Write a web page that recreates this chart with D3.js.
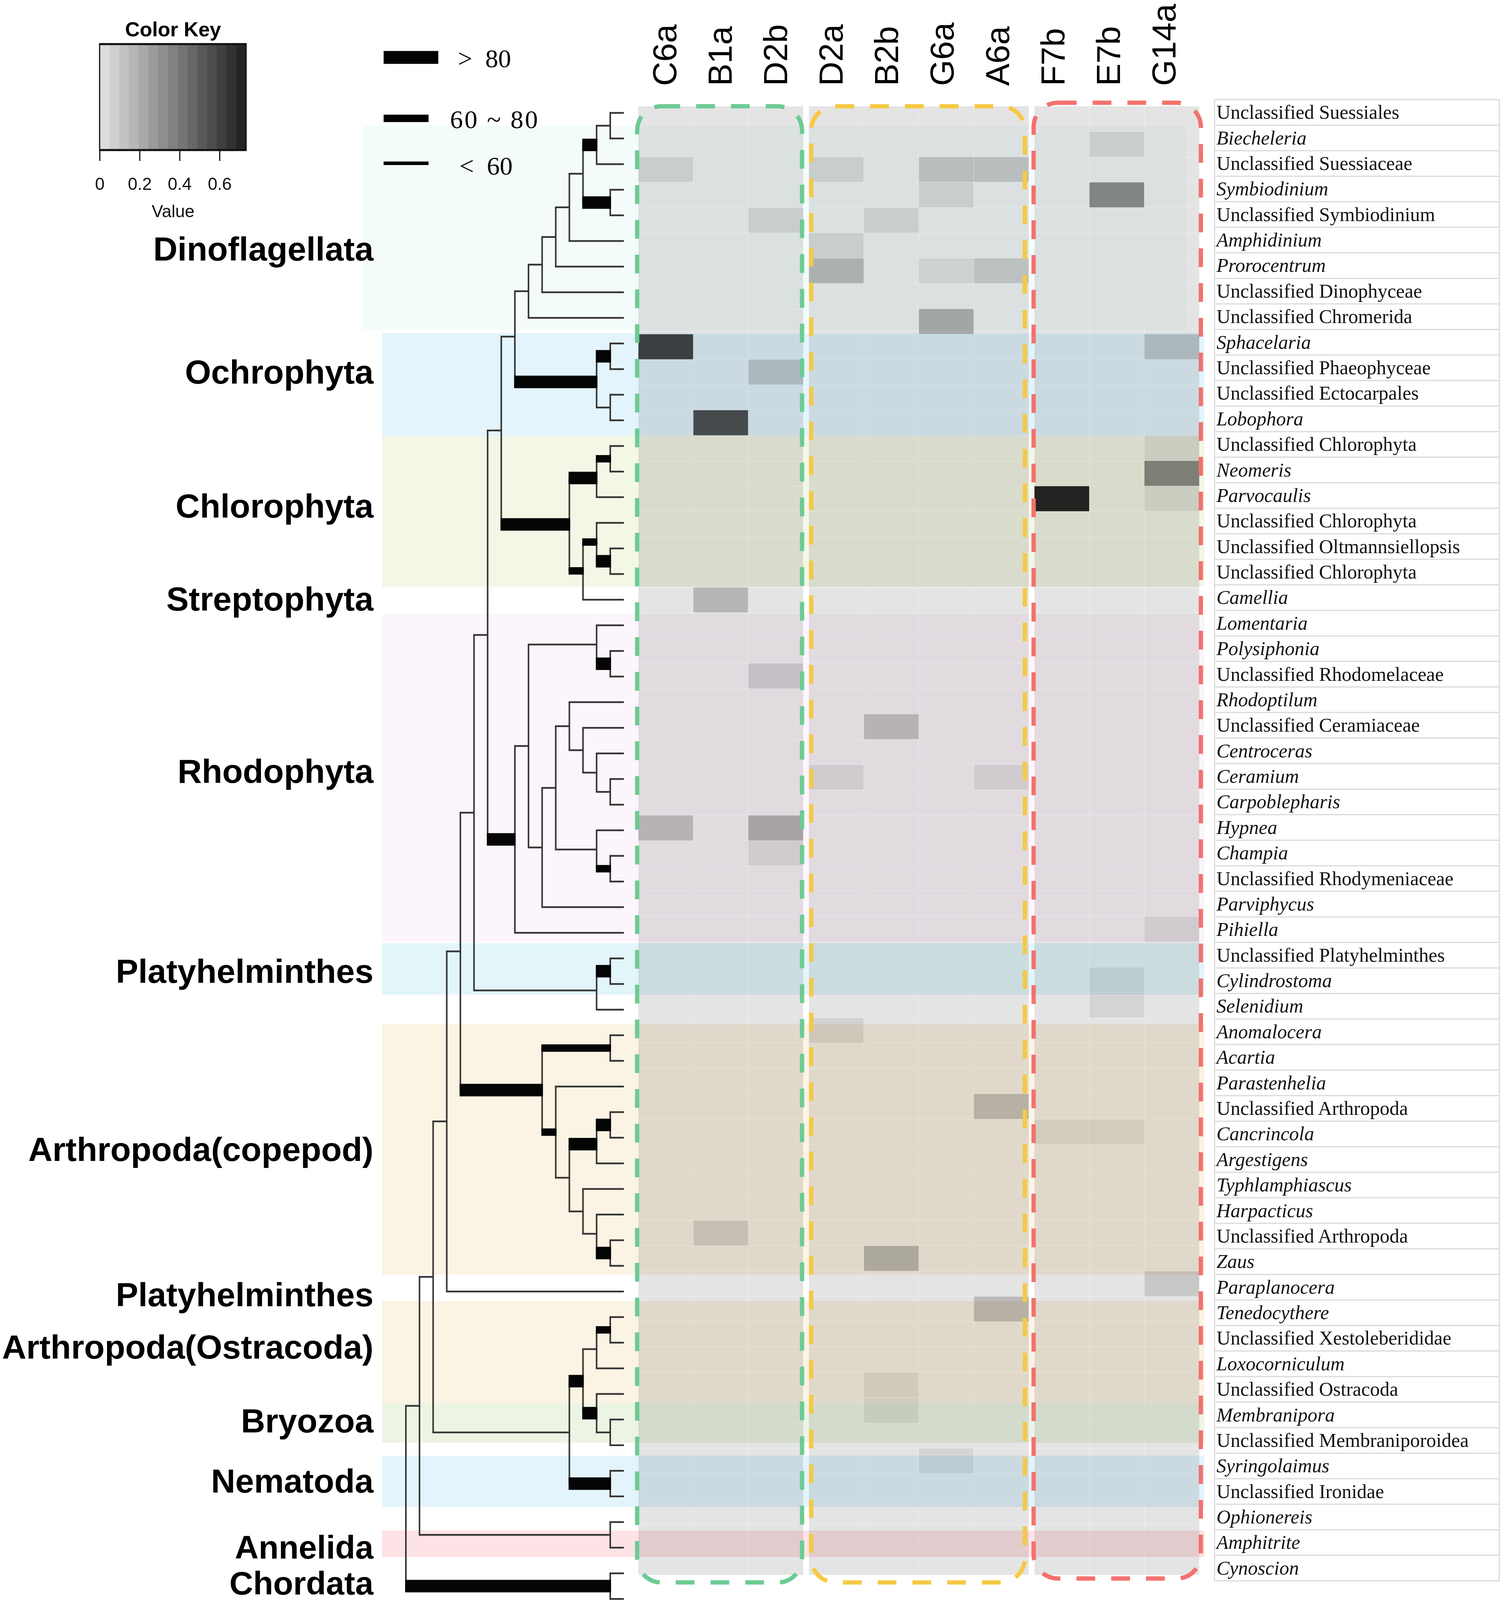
<!DOCTYPE html>
<html><head><meta charset="utf-8">
<script src="https://cdn.jsdelivr.net/npm/d3@7"></script>
<style>body{margin:0;background:#fff} svg{display:block}</style>
</head><body>
<svg id="chart" width="3850" height="4109" xmlns="http://www.w3.org/2000/svg"></svg>
<script>
// ---------------- DATA ----------------
const columns = ["C6a","B1a","D2b","D2a","B2b","G6a","A6a","F7b","E7b","G14a"];
const columnGroup = [0,0,0,1,1,1,1,2,2,2];

const taxa = [
"Unclassified Suessiales","Biecheleria","Unclassified Suessiaceae","Symbiodinium","Unclassified Symbiodinium",
"Amphidinium","Prorocentrum","Unclassified Dinophyceae","Unclassified Chromerida","Sphacelaria",
"Unclassified Phaeophyceae","Unclassified Ectocarpales","Lobophora","Unclassified Chlorophyta","Neomeris",
"Parvocaulis","Unclassified Chlorophyta","Unclassified Oltmannsiellopsis","Unclassified Chlorophyta","Camellia",
"Lomentaria","Polysiphonia","Unclassified Rhodomelaceae","Rhodoptilum","Unclassified Ceramiaceae",
"Centroceras","Ceramium","Carpoblepharis","Hypnea","Champia",
"Unclassified Rhodymeniaceae","Parviphycus","Pihiella","Unclassified Platyhelminthes","Cylindrostoma",
"Selenidium","Anomalocera","Acartia","Parastenhelia","Unclassified Arthropoda",
"Cancrincola","Argestigens","Typhlamphiascus","Harpacticus","Unclassified Arthropoda",
"Zaus","Paraplanocera","Tenedocythere","Unclassified Xestoleberididae","Loxocorniculum",
"Unclassified Ostracoda","Membranipora","Unclassified Membraniporoidea","Syringolaimus","Unclassified Ironidae",
"Ophionereis","Amphitrite","Cynoscion"];

// relative abundance, columns in the order of `columns`
const abundance = [
[0,0,0,0,0,0,0,0,0,0],
[0,0,0,0,0,0,0,0,0.07,0],
[0.07,0,0,0.07,0,0.13,0.13,0,0,0],
[0,0,0,0,0,0.07,0,0,0.34,0],
[0,0,0.07,0,0.07,0,0,0,0,0],
[0,0,0,0.07,0,0,0,0,0,0],
[0,0,0,0.18,0,0.055,0.12,0,0,0],
[0,0,0,0,0,0,0,0,0,0],
[0,0,0,0,0,0.22,0,0,0,0],
[0.6,0,0,0,0,0,0,0,0,0.13],
[0,0,0.13,0,0,0,0,0,0,0],
[0,0,0,0,0,0,0,0,0,0],
[0,0.56,0,0,0,0,0,0,0,0],
[0,0,0,0,0,0,0,0,0,0.06],
[0,0,0,0,0,0,0,0,0,0.36],
[0,0,0,0,0,0,0,0.71,0,0.06],
[0,0,0,0,0,0,0,0,0,0],
[0,0,0,0,0,0,0,0,0,0],
[0,0,0,0,0,0,0,0,0,0],
[0,0.17,0,0,0,0,0,0,0,0],
[0,0,0,0,0,0,0,0,0,0],
[0,0,0,0,0,0,0,0,0,0],
[0,0,0.105,0,0,0,0,0,0,0],
[0,0,0,0,0,0,0,0,0,0],
[0,0,0,0,0.16,0,0,0,0,0],
[0,0,0,0,0,0,0,0,0,0],
[0,0,0,0.06,0,0,0.06,0,0,0],
[0,0,0,0,0,0,0,0,0,0],
[0.16,0,0.215,0,0,0,0,0,0,0],
[0,0,0.06,0,0,0,0,0,0,0],
[0,0,0,0,0,0,0,0,0,0],
[0,0,0,0,0,0,0,0,0,0],
[0,0,0,0,0,0,0,0,0,0.06],
[0,0,0,0,0,0,0,0,0,0],
[0,0,0,0,0,0,0,0,0.06,0],
[0,0,0,0,0,0,0,0,0.06,0],
[0,0,0,0.065,0,0,0,0,0,0],
[0,0,0,0,0,0,0,0,0,0],
[0,0,0,0,0,0,0,0,0,0],
[0,0,0,0,0,0,0.155,0,0,0],
[0,0,0,0,0,0,0,0.05,0.05,0],
[0,0,0,0,0,0,0,0,0,0],
[0,0,0,0,0,0,0,0,0,0],
[0,0,0,0,0,0,0,0,0,0],
[0,0.1,0,0,0,0,0,0,0,0],
[0,0,0,0,0.19,0,0,0,0,0],
[0,0,0,0,0,0,0,0,0,0.105],
[0,0,0,0,0,0,0.155,0,0,0],
[0,0,0,0,0,0,0,0,0,0],
[0,0,0,0,0,0,0,0,0,0],
[0,0,0,0,0.055,0,0,0,0,0],
[0,0,0,0,0.05,0,0,0,0,0],
[0,0,0,0,0,0,0,0,0,0],
[0,0,0,0,0,0.055,0,0,0,0],
[0,0,0,0,0,0,0,0,0,0],
[0,0,0,0,0,0,0,0,0,0],
[0,0,0,0,0,0,0,0,0,0],
[0,0,0,0,0,0,0,0,0,0]];

// phylum labels and their anchor (in heatmap row units)
const phylumLabels = ["Dinoflagellata","Ochrophyta","Chlorophyta","Streptophyta","Rhodophyta","Platyhelminthes",
  "Arthropoda(copepod)","Platyhelminthes","Arthropoda(Ostracoda)","Bryozoa","Nematoda","Annelida","Chordata"];
const phylumLabelRow = [5.61,10.48,15.76,19.43,26.24,34.14,41.17,46.91,48.97,51.89,54.26,56.88,58.3];

// coloured bands: [name, fromRow, toRow]
const phylumBands = [
 ["Dinoflagellata",0.77,8.84],["Ochrophyta",8.96,13.02],["Chlorophyta",13.02,18.97],
 ["Rhodophyta",20.04,33.01],["Platyhelminthes",33.05,35.08],["Arthropoda(copepod)",36.25,46.14],
 ["Arthropoda(Ostracoda)",47.18,51.22],["Bryozoa",51.22,52.77],["Nematoda",53.29,55.31],["Annelida",56.24,57.29]];

// tree topology (tip numbers = tree leaf order, 59 tips)
const cladeDino = "(((((((1,2),3),(4,5)),6),7),8),9)";
const cladeOchro = "((10,11),(12,13))";
const cladeChloro = "(((14,15),16),((17,(18,19)),20))";
const cladeRhodo = "(((21,(22,23)),(((24,(25,(26,(27,28)))),(29,(30,31))),32)),33)";
const cladePlaty = "((34,35),36)";
const cladeCopepod = "((37,38),(39,(((40,41),42),(43,(44,(45,46))))))";
const cladeOstra = "((((48,49),50),(51,(52,53))),(54,55))";
const treeNewick = `(((((((((${cladeDino},${cladeOchro}),${cladeChloro}),${cladeRhodo}),${cladePlaty}),${cladeCopepod}),47),${cladeOstra}),(56,57)),(58,59))`;

// bootstrap support of clades identified by [first tip, last tip]
const supportHigh = [[1,3],[4,5],[10,13],[10,11],[14,16],[14,20],[18,19],[22,23],[21,33],[34,35],
  [37,46],[40,41],[40,42],[45,46],[51,53],[48,53],[54,55],[58,59]];
const supportMid = [[14,15],[17,19],[17,20],[30,31],[37,38],[39,46],[48,49]];

const keyTicks = [0,0.2,0.4,0.6];
const keyMax = 0.733;
const supportLegend = ["> 80","60 ~ 80","< 60"];

// ---------------- DRAW ----------------
const svg = d3.select("#chart");
svg.append("rect").attr("width",3850).attr("height",4109).attr("fill","#fff");

const SANS = "'Liberation Sans', Arial, Helvetica, sans-serif";
const SERIF = "'Liberation Serif', 'Times New Roman', serif";

const colW = 140.7, groupGap = 14.5, heatX0 = 1634;
const xCol = d3.scaleLinear().domain([0, columns.length]).range([heatX0, heatX0 + columns.length*colW]);
const colX = i => xCol(i) + columnGroup[i]*groupGap;
const rowScale = d3.scaleLinear().domain([0, taxa.length]).range([272, 4032]);
const rowH = rowScale(1) - rowScale(0);
const color = d3.scaleLinear().domain([0, keyMax]).range(["#e4e4e4","#1e1e1e"]);

// heatmap cells
const cellData = abundance.flatMap((row,r)=>row.map((v,c)=>({r,c,v})));
svg.append("g").selectAll("rect").data(cellData).join("rect")
  .attr("x", d=>colX(d.c)).attr("y", d=>rowScale(d.r))
  .attr("width", colW).attr("height", rowH)
  .attr("fill", d=>color(d.v))
  .attr("stroke","rgba(255,255,255,0.22)").attr("stroke-width",1.5);

// phylum bands (multiplied over everything)
const bandFill = {"Dinoflagellata":"#f4fcfb","Ochrophyta":"#e3f4fc","Chlorophyta":"#f3f7e6","Rhodophyta":"#fcf5fb",
 "Platyhelminthes":"#e2f6f9","Arthropoda(copepod)":"#fbf3e3","Arthropoda(Ostracoda)":"#fbf3e3","Bryozoa":"#ecf5e4",
 "Nematoda":"#e3f4fc","Annelida":"#fde3e6"};
svg.append("g").selectAll("rect").data(phylumBands).join("rect")
  .attr("x", (d,i)=> i===0 ? 929 : 978)
  .attr("width", (d,i)=> i===0 ? 3037-929 : 3083-978)
  .attr("y", d=>rowScale(d[1])).attr("height", d=>rowScale(d[2])-rowScale(d[1]))
  .attr("fill", d=>bandFill[d[0]])
  .style("mix-blend-mode","multiply");

// ---- tree ----
function parseNewick(s){
  let i=0;
  function node(){
    if(s[i]==='('){ i++; const ch=[node()]; while(s[i]===','){ i++; ch.push(node()); } i++; return {children:ch}; }
    let t=''; while(i<s.length && !',()'.includes(s[i])) t+=s[i++];
    return {tip:+t};
  }
  return node();
}
const root = d3.hierarchy(parseNewick(treeNewick));
const tipStep = 65.59, nTips = root.leaves().length;
const treeTop = 289 - tipStep/2, treeLeft = 1039, treeRight = 1597;
d3.cluster().size([nTips*tipStep, treeRight-treeLeft]).separation(()=>1)(root);
const px = n => treeLeft + n.y, py = n => treeTop + n.x;
root.each(n=>{ const t=n.leaves().map(l=>l.data.tip); n.span=[d3.min(t), d3.max(t)]; });
const has = (list,n)=> list.some(s=>s[0]===n.span[0] && s[1]===n.span[1]);

const tg = svg.append("g");
const thinCol = "#363636";
tg.selectAll("line.v").data(root.descendants().filter(n=>n.children)).join("line")
  .attr("x1", px).attr("x2", px)
  .attr("y1", n=>py(n.children[0])).attr("y2", n=>py(n.children[n.children.length-1]))
  .attr("stroke", thinCol).attr("stroke-width", 4);
const links = root.links();
tg.selectAll("line.h").data(links.filter(l=>!has(supportHigh,l.target)&&!has(supportMid,l.target))).join("line")
  .attr("x1", l=>px(l.source)-2).attr("x2", l=>px(l.target))
  .attr("y1", l=>py(l.target)).attr("y2", l=>py(l.target))
  .attr("stroke", thinCol).attr("stroke-width", 4.5);
tg.selectAll("rect.b").data(links.filter(l=>has(supportHigh,l.target)||has(supportMid,l.target))).join("rect")
  .attr("x", l=>px(l.source)-2).attr("width", l=>px(l.target)-px(l.source)+4)
  .attr("y", l=>py(l.target) - (has(supportHigh,l.target)?16:9.5))
  .attr("height", l=> has(supportHigh,l.target)?32:19)
  .attr("fill","#050505");

// ---- dashed group outlines ----
const outlineStyle = [
 {g:0, color:"#6ccb94", dx0:-3, dx1:-3, top:272, bottom:4051},
 {g:1, color:"#f6c945", dx0:6, dx1:-10, top:272, bottom:4051},
 {g:2, color:"#f3716d", dx0:-2, dx1:4, top:263, bottom:4041}];
svg.append("g").selectAll("rect").data(outlineStyle).join("rect")
  .attr("x", d=>{ const i=columnGroup.indexOf(d.g); return colX(i)+d.dx0; })
  .attr("width", d=>{ const i=columnGroup.indexOf(d.g), j=columnGroup.lastIndexOf(d.g);
      return colX(j)+colW+d.dx1 - (colX(i)+d.dx0); })
  .attr("y", d=>d.top).attr("height", d=>d.bottom-d.top)
  .attr("rx", 62).attr("ry", 62)
  .attr("fill","none").attr("stroke", d=>d.color).attr("stroke-width", 11)
  .attr("stroke-dasharray","48 41");

// ---- column labels ----
const colLabelX = d3.scalePoint().domain(columns).range([1700, 2978]);
svg.append("g").selectAll("text").data(columns).join("text")
  .attr("transform", d=>`translate(${colLabelX(d)},220) rotate(-90)`)
  .attr("dy","0.36em").attr("text-anchor","start")
  .attr("font-family", SANS).attr("font-size", 86).attr("fill","#000")
  .text(d=>d);

// ---- phylum labels ----
svg.append("g").selectAll("text").data(phylumLabels).join("text")
  .attr("x", 956).attr("y", (d,i)=>rowScale(phylumLabelRow[i]))
  .attr("dy","0.36em").attr("text-anchor","end")
  .attr("font-family", SANS).attr("font-weight","bold")
  .attr("font-size", (d,i)=> i>=11 ? 84 : 86).attr("fill","#000")
  .text(d=>d);

// ---- taxon label table ----
const tableY = d3.scaleBand().domain(d3.range(taxa.length)).range([255, 4047]);
const tbl = svg.append("g");
tbl.selectAll("line.r").data(d3.range(taxa.length+1)).join("line")
  .attr("x1",3109).attr("x2",3838)
  .attr("y1", i=> i<taxa.length ? tableY(i) : tableY(taxa.length-1)+tableY.bandwidth())
  .attr("y2", i=> i<taxa.length ? tableY(i) : tableY(taxa.length-1)+tableY.bandwidth())
  .attr("stroke","#dadada").attr("stroke-width",3);
tbl.append("line").attr("x1",3109).attr("x2",3109).attr("y1",255).attr("y2",4047).attr("stroke","#dadada").attr("stroke-width",3);
tbl.append("line").attr("x1",3838).attr("x2",3838).attr("y1",255).attr("y2",4047).attr("stroke","#dadada").attr("stroke-width",3);
tbl.selectAll("text").data(taxa).join("text")
  .attr("x", 3114).attr("y", (d,i)=>tableY(i)+tableY.bandwidth()/2)
  .attr("dy","0.33em")
  .attr("font-family", SERIF).attr("font-size", 50).attr("fill","#111")
  .attr("font-style", d=> d.startsWith("Unclassified") ? "normal" : "italic")
  .text(d=>d);

// ---- colour key ----
const kx = d3.scaleLinear().domain([0, keyMax]).range([255, 630]);
const key = svg.append("g");
const nStripes = 15;
const stripes = d3.range(nStripes).map(i=>({a:i*keyMax/nStripes, b:(i+1)*keyMax/nStripes}));
key.selectAll("rect.s").data(stripes).join("rect")
  .attr("x", d=>kx(d.a)).attr("width", d=>kx(d.b)-kx(d.a)+0.5)
  .attr("y",112).attr("height",273)
  .attr("fill", d=>color((d.a+d.b)/2));
key.append("rect").attr("x",255).attr("y",112).attr("width",375).attr("height",273)
  .attr("fill","none").attr("stroke","#111").attr("stroke-width",3);
key.append("line").attr("x1",255).attr("x2",630).attr("y1",113).attr("y2",113).attr("stroke","#111").attr("stroke-width",5);
key.append("line").attr("x1",255).attr("x2",630).attr("y1",384).attr("y2",384).attr("stroke","#111").attr("stroke-width",5);
const axisG = key.append("g").attr("transform","translate(0,385)")
  .call(d3.axisBottom(kx).tickValues(keyTicks).tickSize(27).tickPadding(43).tickFormat(d=> d===0?"0":d3.format(".1f")(d)));
axisG.select(".domain").remove();
axisG.selectAll(".tick line").attr("stroke","#111").attr("stroke-width",3);
axisG.selectAll(".tick text").attr("font-family",SANS).attr("font-size",44).attr("fill","#111");
key.append("text").attr("x",443).attr("y",74).attr("dy","0.36em").attr("text-anchor","middle")
  .attr("font-family",SANS).attr("font-weight","bold").attr("font-size",52).text("Color Key");
key.append("text").attr("x",443).attr("y",540).attr("dy","0.36em").attr("text-anchor","middle")
  .attr("font-family",SANS).attr("font-size",44).attr("fill","#111").text("Value");

// ---- support legend ----
const legH = [33, 19, 9], legW = [140, 115, 115], legY = [147, 303, 418], legTextX = [1172, 1152, 1176], legBase = [172, 328, 447];
const leg = svg.append("g");
leg.selectAll("rect").data(supportLegend).join("rect")
  .attr("x",982).attr("width",(d,i)=>legW[i])
  .attr("y",(d,i)=>legY[i]-legH[i]/2).attr("height",(d,i)=>legH[i])
  .attr("fill","#000");
leg.selectAll("text").data(supportLegend).join("text")
  .attr("x",(d,i)=>legTextX[i]).attr("y",(d,i)=>legBase[i])
  .attr("font-family",SERIF).attr("font-size",66).attr("fill","#000")
  .attr("letter-spacing",(d,i)=> i===1 ? 4 : 0)
  .style("white-space","pre")
  .text(d=> d.replace("> ",">  ").replace("< ","<  "));
</script>
</body></html>
